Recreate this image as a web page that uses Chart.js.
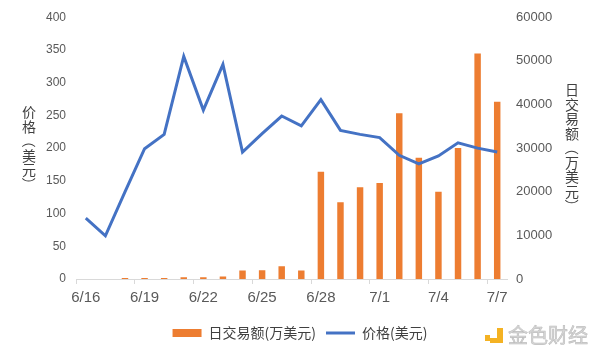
<!DOCTYPE html>
<html>
<head>
<meta charset="utf-8">
<script src="https://cdn.jsdelivr.net/npm/chart.js@4"></script>
<style>
  html, body { margin: 0; padding: 0; background: #ffffff; }
  #wrap { width: 600px; height: 355px; position: relative; }
</style>
</head>
<body>
<div id="wrap"><canvas id="c" width="600" height="355"></canvas></div>
<script>
const categories = ['6/16','6/17','6/18','6/19','6/20','6/21','6/22','6/23','6/24','6/25','6/26','6/27','6/28','6/29','6/30','7/1','7/2','7/3','7/4','7/5','7/6','7/7'];
const volume = [0, 0, 230, 250, 250, 400, 400, 600, 1950, 1980, 2950, 1950, 24600, 17600, 21000, 22000, 38000, 27800, 20000, 30000, 51700, 40600];
const price = [93, 66, 133, 199, 221, 340, 258, 328, 194, 222, 249, 234, 274, 227, 221, 216, 189, 176, 188, 208, 200, 194];
const volumeLabel = '日交易额(万美元)';
const priceLabel = '价格(美元)';
const leftTitle = ['价', '格', '（', '美', '元', '）'];
const rightTitle = ['日', '交', '易', '额', '（', '万', '美', '元', '）'];
const watermark = '金色财经';

const CJK = '"Noto Sans CJK SC", "Liberation Sans", sans-serif';
const LAT = '"Liberation Sans", Arial, sans-serif';

function drawVertical(ctx, chars, x, midY, pitch) {
  chars.forEach((ch, i) => {
    const y = midY - (chars.length - 1) * pitch / 2 + i * pitch;
    if (ch === '（' || ch === '）') {
      ctx.save();
      ctx.translate(x, y);
      ctx.rotate(Math.PI / 2);
      ctx.fillText(ch, 0, 0);
      ctx.restore();
    } else {
      ctx.fillText(ch, x, y);
    }
  });
}

const extras = {
  id: 'extras',
  afterDraw(chart) {
    const ctx = chart.ctx;
    const ca = chart.chartArea;
    const midY = (ca.top + ca.bottom) / 2;
    ctx.save();
    ctx.fillStyle = '#404040';
    ctx.font = '14px ' + CJK;
    ctx.textAlign = 'center';
    ctx.textBaseline = 'middle';
    drawVertical(ctx, leftTitle, 29, midY, 14.5);
    drawVertical(ctx, rightTitle, 572, midY, 14.5);
    // watermark
    ctx.fillStyle = '#F4B223';
    ctx.fillRect(485, 335, 5, 6);
    ctx.fillRect(497, 328, 6, 15);
    ctx.fillRect(490, 338, 13, 5);
    ctx.font = '20px ' + CJK;
    ctx.textAlign = 'left';
    ctx.fillStyle = '#d6d6d6';
    ctx.strokeStyle = '#bdbdbd';
    ctx.lineWidth = 0.6;
    ctx.fillText(watermark, 508, 335);
    ctx.strokeText(watermark, 508, 335);
    ctx.restore();
  }
};

new Chart(document.getElementById('c'), {
  data: {
    labels: categories,
    datasets: [
      {
        type: 'bar',
        label: volumeLabel,
        data: volume,
        yAxisID: 'y1',
        backgroundColor: '#ED7D31',
        borderWidth: 0,
        barPercentage: 0.33,
        categoryPercentage: 1.0,
        order: 2
      },
      {
        type: 'line',
        label: priceLabel,
        data: price,
        yAxisID: 'y',
        borderColor: '#4472C4',
        backgroundColor: '#4472C4',
        borderWidth: 3,
        pointRadius: 0,
        tension: 0,
        order: 1
      }
    ]
  },
  options: {
    responsive: false,
    animation: false,
    layout: { padding: { top: 8, bottom: 5, left: 0, right: 0 } },
    plugins: {
      tooltip: { enabled: false },
      legend: {
        position: 'bottom',
        labels: {
          usePointStyle: true,
          pointStyleWidth: 29,
          boxHeight: 8,
          padding: 10,
          color: '#404040',
          font: { family: CJK, size: 14 },
          sort: (a, b) => a.datasetIndex - b.datasetIndex,
          generateLabels(chart) {
            return chart.data.datasets.map((ds, i) => ({
              text: ds.label,
              fillStyle: ds.type === 'bar' ? ds.backgroundColor : ds.borderColor,
              strokeStyle: ds.type === 'bar' ? ds.backgroundColor : ds.borderColor,
              lineWidth: ds.type === 'bar' ? 0 : 3,
              pointStyle: ds.type === 'bar' ? 'rect' : 'line',
              fontColor: '#404040',
              hidden: false,
              datasetIndex: i
            }));
          }
        }
      }
    },
    scales: {
      x: {
        type: 'category',
        offset: true,
        grid: {
          offset: true,
          drawOnChartArea: false,
          drawTicks: true,
          tickLength: 5,
          color: (c) => (c.index % 3 === 0 ? '#d9d9d9' : 'rgba(0,0,0,0)'),
          tickColor: (c) => (c.index % 3 === 0 ? '#d9d9d9' : 'rgba(0,0,0,0)')
        },
        border: { display: true, color: '#d9d9d9', width: 1 },
        ticks: {
          autoSkip: false,
          maxRotation: 0,
          minRotation: 0,
          padding: 5,
          color: '#595959',
          font: { family: LAT, size: 15 },
          callback: (v, i) => (i % 3 === 0 ? categories[i] : '')
        },
        afterFit: (s) => { s.height = 37; }
      },
      y: {
        position: 'left',
        min: 0,
        max: 400,
        grid: { display: false, drawTicks: false },
        border: { display: false },
        ticks: { stepSize: 50, padding: 10, color: '#595959', font: { family: LAT, size: 12 } },
        afterFit: (s) => { s.width = 76; }
      },
      y1: {
        position: 'right',
        min: 0,
        max: 60000,
        grid: { display: false, drawTicks: false },
        border: { display: false },
        ticks: { stepSize: 10000, padding: 9, color: '#595959', font: { family: LAT, size: 13 }, callback: (v) => String(v) },
        afterFit: (s) => { s.width = 93; }
      }
    }
  },
  plugins: [extras]
});
</script>
</body>
</html>
